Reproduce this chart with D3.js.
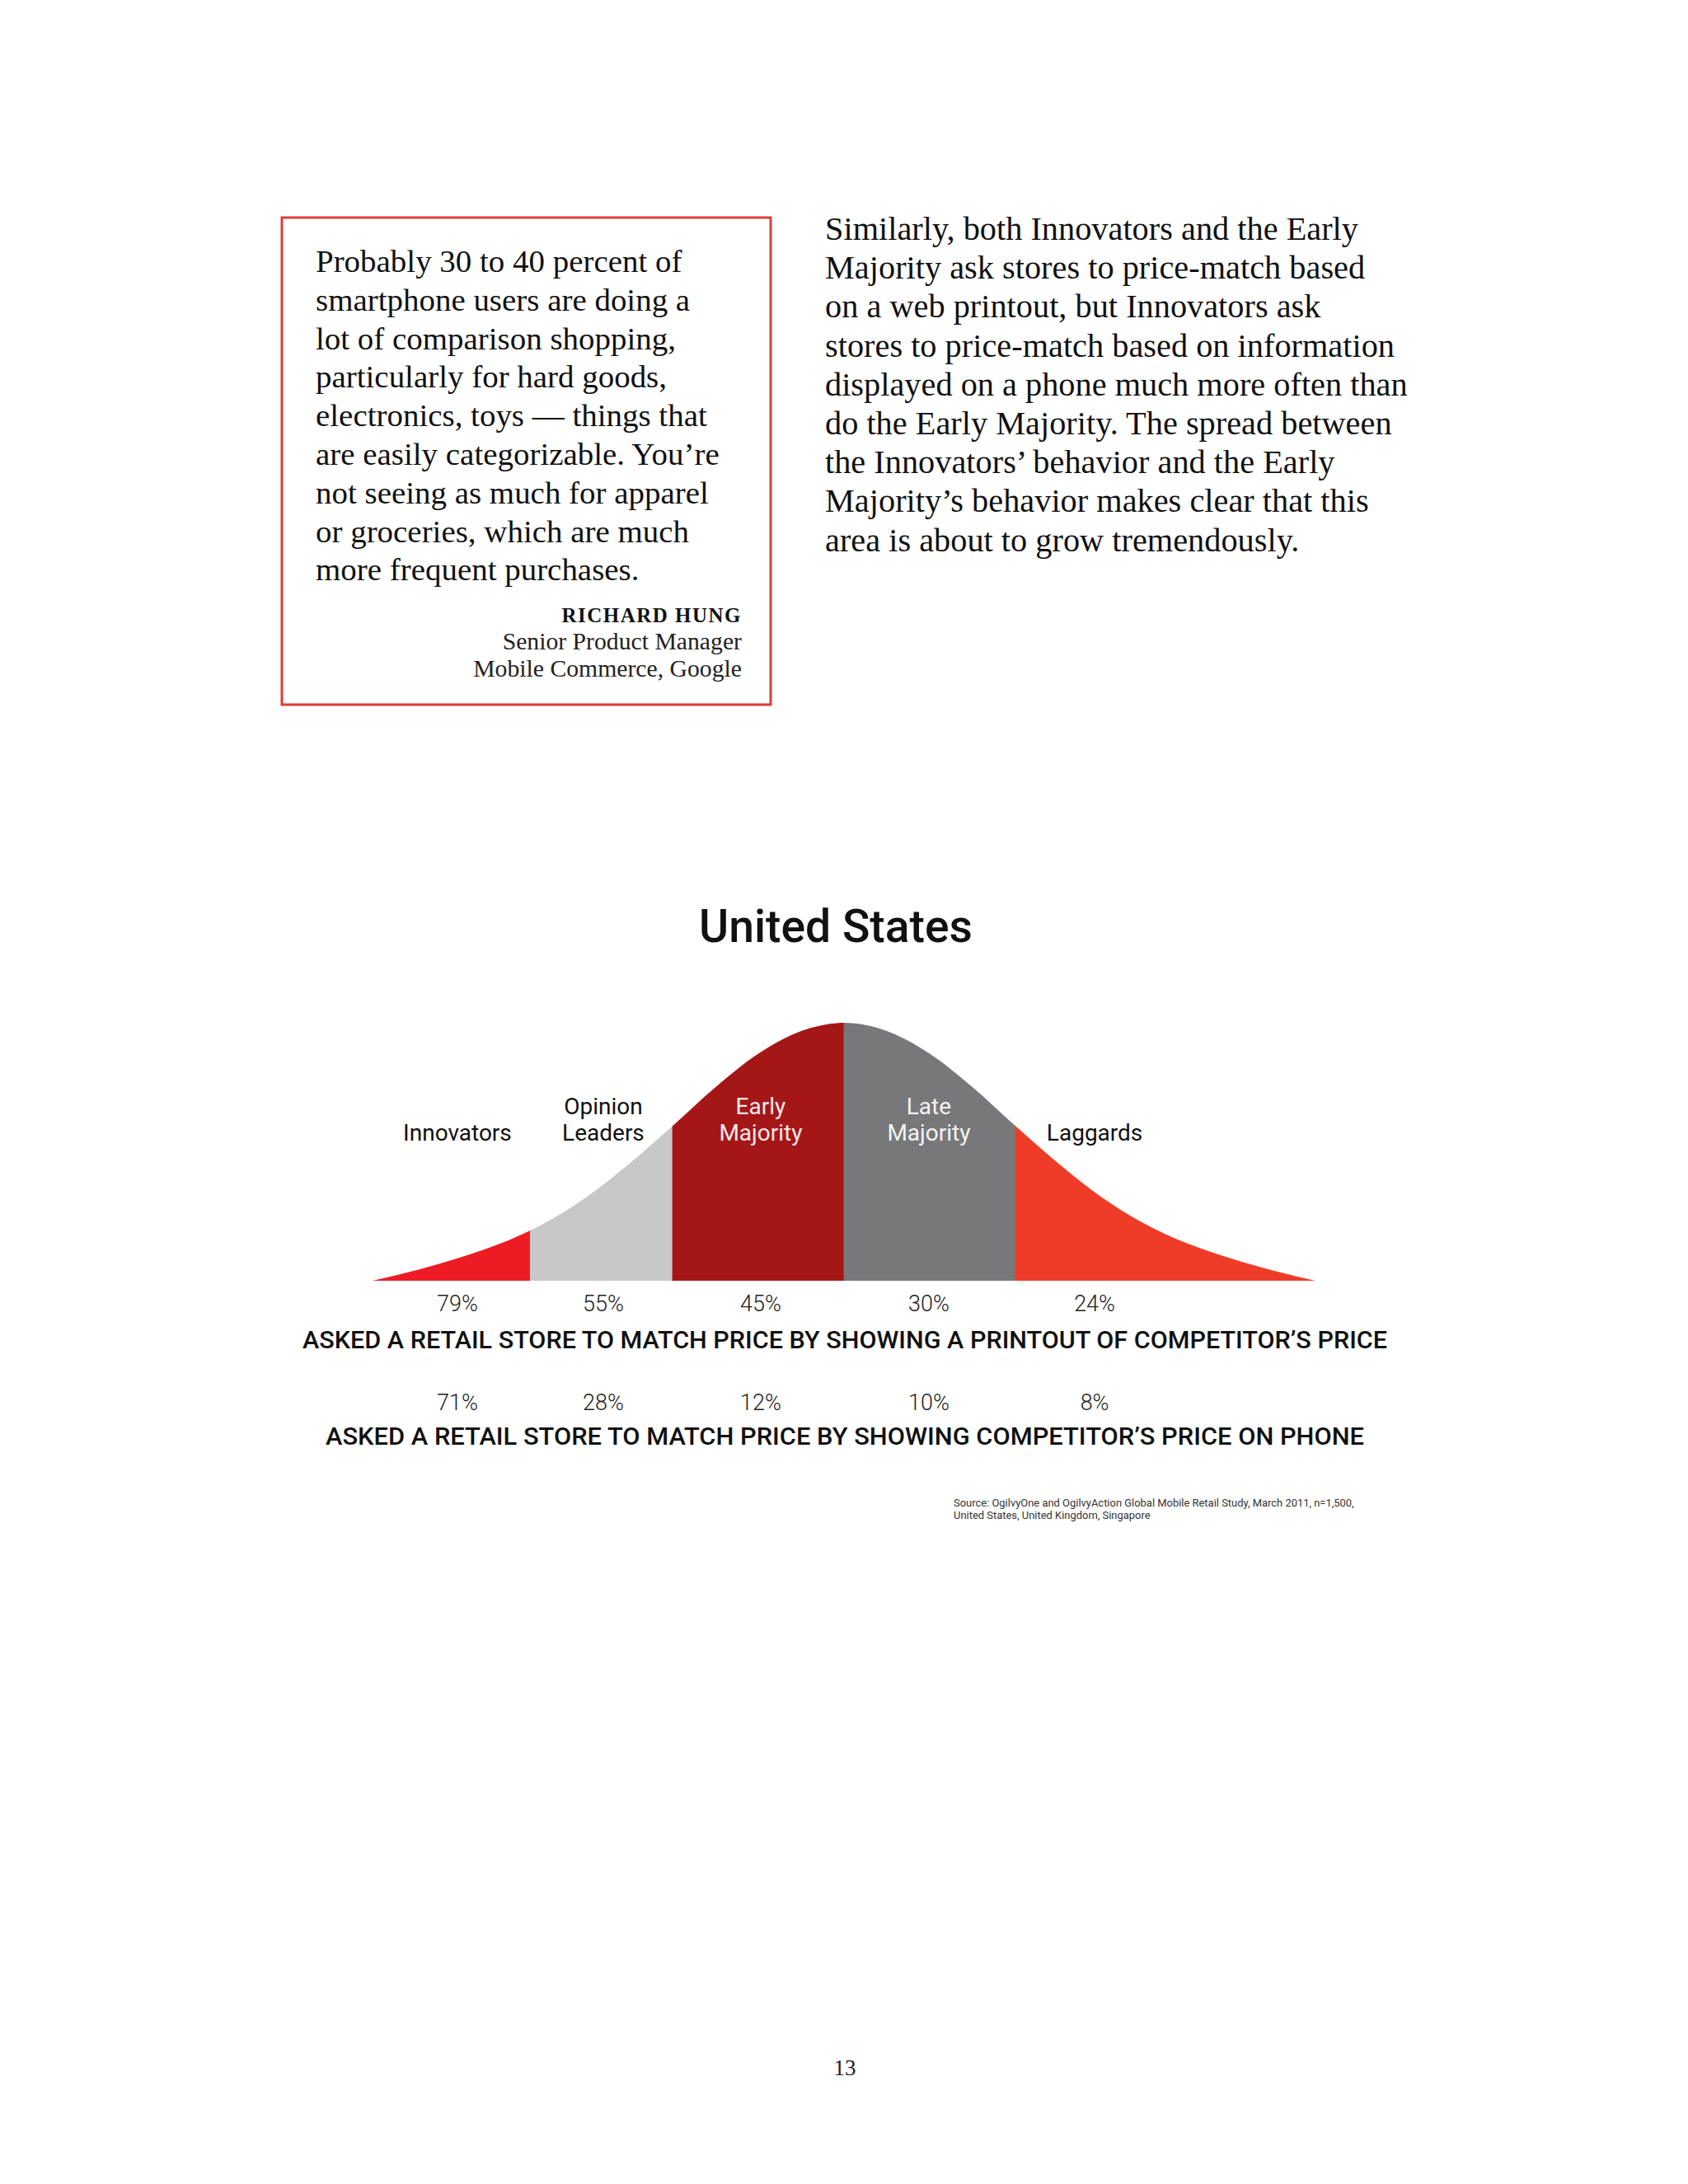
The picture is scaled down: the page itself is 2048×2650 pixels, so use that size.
<!DOCTYPE html>
<html>
<head>
<meta charset="utf-8">
<script src="https://cdn.jsdelivr.net/npm/d3@7"></script>
<style>
  body { margin: 0; background: #fff; }
  svg { display: block; }
</style>
</head>
<body>
<svg id="page"></svg>
<script>
// ---- data ----
const segments = ['Innovators', 'Opinion Leaders', 'Early Majority', 'Late Majority', 'Laggards'];
const segmentBounds = [-2.75, -1.83, -1, 0, 1, 2.75];           // in standard deviations
const curveX = [-2.75, -2.5, -2.25, -2, -1.75, -1.5, -1.25, -1, -0.75, -0.5, -0.25, 0,
                0.25, 0.5, 0.75, 1, 1.25, 1.5, 1.75, 2, 2.25, 2.5, 2.75];
const curveY = [0, 0.04, 0.088, 0.145, 0.222, 0.325, 0.455, 0.6, 0.75, 0.88, 0.968, 1,
                0.968, 0.88, 0.75, 0.6, 0.455, 0.325, 0.222, 0.145, 0.088, 0.04, 0];
const printoutPct = [79, 55, 45, 30, 24];
const phonePct = [71, 28, 12, 10, 8];
const printoutLabel = 'ASKED A RETAIL STORE TO MATCH PRICE BY SHOWING A PRINTOUT OF COMPETITOR\u2019S PRICE';
const phoneLabel = 'ASKED A RETAIL STORE TO MATCH PRICE BY SHOWING COMPETITOR\u2019S PRICE ON PHONE';
const chartTitle = 'United States';

const quoteLines = [
  'Probably 30 to 40 percent of',
  'smartphone users are doing a',
  'lot of comparison shopping,',
  'particularly for hard goods,',
  'electronics, toys \u2014 things that',
  'are easily categorizable. You\u2019re',
  'not seeing as much for apparel',
  'or groceries, which are much',
  'more frequent purchases.'
];
const quoteName = 'RICHARD HUNG';
const quoteRole = ['Senior Product Manager', 'Mobile Commerce, Google'];

const bodyLines = [
  'Similarly, both Innovators and the Early',
  'Majority ask stores to price-match based',
  'on a web printout, but Innovators ask',
  'stores to price-match based on information',
  'displayed on a phone much more often than',
  'do the Early Majority. The spread between',
  'the Innovators\u2019 behavior and the Early',
  'Majority\u2019s behavior makes clear that this',
  'area is about to grow tremendously.'
];
const sourceLines = [
  'Source: OgilvyOne and OgilvyAction Global Mobile Retail Study, March 2011, n=1,500,',
  'United States, United Kingdom, Singapore'
];
const pageNumber = '13';

// ---- layout ----
const W = 2048, H = 2650;
const serif = '"Liberation Serif", "DejaVu Serif", serif';
const sans = 'Roboto, "Noto Sans", sans-serif';
const colors = ['#ed1c24', '#c8c8c8', '#a51617', '#78787a', '#ef3c29'];
const labelColors = ['#111', '#111', '#f6e9e9', '#f2f2f2', '#111'];
const labelCentres = [-2.255, -1.404, -0.486, 0.495, 1.462];      // column centres, sd units

const svg = d3.select('#page').attr('width', W).attr('height', H);
svg.append('rect').attr('width', W).attr('height', H).attr('fill', '#fff');

// writes lines, then scales font so line `ref` is `target` px wide
function block(lines, x, y, lead, opts) {
  const g = svg.append('g');
  const t = g.selectAll('text').data(lines).join('text')
      .attr('x', x)
      .attr('y', (d, i) => y + i * lead)
      .attr('font-family', opts.font)
      .attr('font-size', 36)
      .attr('font-weight', opts.weight || 400)
      .attr('letter-spacing', opts.spacing || 0)
      .attr('text-anchor', opts.anchor || 'start')
      .attr('fill', opts.fill || '#111')
      .text(d => d);
  const w = t.nodes()[opts.ref || 0].getComputedTextLength();
  t.attr('font-size', 36 * opts.target / w);
  return t;
}

// quote box
svg.append('rect')
    .attr('x', 342).attr('y', 264)
    .attr('width', 593).attr('height', 591)
    .attr('fill', 'none')
    .attr('stroke', '#e23a34')
    .attr('stroke-width', 3);

block(quoteLines, 383, 330, 46.8, {font: serif, ref: 5, target: 490});
block([quoteName], 900, 755, 0, {font: serif, weight: 700, spacing: 1.5, anchor: 'end', target: 213});
block(quoteRole, 900, 788, 33, {font: serif, anchor: 'end', ref: 1, target: 326, fill: '#222'});

block(bodyLines, 1001, 291, 47.2, {font: serif, ref: 4, target: 707});

// ---- bell curve ----
const x = d3.scaleLinear().domain([-2.75, 2.75]).range([452, 1596]);
const y = d3.scaleLinear().domain([0, 1]).range([1554, 1241]);
const pts = curveX.map((v, i) => [v, curveY[i]]);

const area = d3.area()
    .x(d => x(d[0]))
    .y0(y(0))
    .y1(d => y(d[1]))
    .curve(d3.curveMonotoneX);

const defs = svg.append('defs');
segments.forEach((s, i) => {
  defs.append('clipPath').attr('id', 'seg' + i)
    .append('rect')
      .attr('x', x(segmentBounds[i]) - 0.4)
      .attr('y', y(1) - 10)
      .attr('width', x(segmentBounds[i + 1]) - x(segmentBounds[i]) + 0.8)
      .attr('height', y(0) - y(1) + 10);
});

svg.append('g').selectAll('path').data(segments).join('path')
    .attr('clip-path', (d, i) => `url(#seg${i})`)
    .attr('d', area(pts))
    .attr('fill', (d, i) => colors[i]);

// segment labels
const labels = svg.append('g')
    .attr('font-family', sans)
    .attr('font-size', 28)
    .attr('font-weight', 400)
    .attr('text-anchor', 'middle');
segments.forEach((s, i) => {
  const words = s.split(' ');
  labels.append('g').selectAll('text').data(words).join('text')
      .attr('x', x(labelCentres[i]))
      .attr('y', (d, j) => 1384 - (words.length - 1 - j) * 32)
      .attr('fill', labelColors[i])
      .text(d => d);
});

svg.append('text')
    .attr('x', 1014).attr('y', 1143)
    .attr('text-anchor', 'middle')
    .attr('font-family', sans)
    .attr('font-size', 56)
    .attr('font-weight', 500)
    .attr('textLength', 332)
    .attr('lengthAdjust', 'spacingAndGlyphs')
    .attr('fill', '#111')
    .text(chartTitle);

// percentage rows
[[printoutPct, 1591, printoutLabel, 1636, 1316], [phonePct, 1711, phoneLabel, 1753, 1260]]
  .forEach(([vals, py, label, ly, lw]) => {
    svg.append('g').selectAll('text').data(vals).join('text')
        .attr('x', (d, i) => x(labelCentres[i]))
        .attr('y', py)
        .attr('text-anchor', 'middle')
        .attr('font-family', sans)
        .attr('font-size', 27)
        .attr('font-weight', 300)
        .attr('fill', '#222')
        .text(d => d + '%');
    svg.append('text')
        .attr('x', 1025).attr('y', ly)
        .attr('text-anchor', 'middle')
        .attr('font-family', sans)
        .attr('font-size', 30)
        .attr('font-weight', 500)
        .attr('textLength', lw)
        .attr('lengthAdjust', 'spacingAndGlyphs')
        .attr('fill', '#111')
        .text(label);
  });

// source note
block(sourceLines, 1157, 1828, 15, {font: sans, target: 486, fill: '#333'});

svg.append('text')
    .attr('x', 1025).attr('y', 2518)
    .attr('text-anchor', 'middle')
    .attr('font-family', serif)
    .attr('font-size', 27)
    .attr('fill', '#222')
    .text(pageNumber);
</script>
</body>
</html>
